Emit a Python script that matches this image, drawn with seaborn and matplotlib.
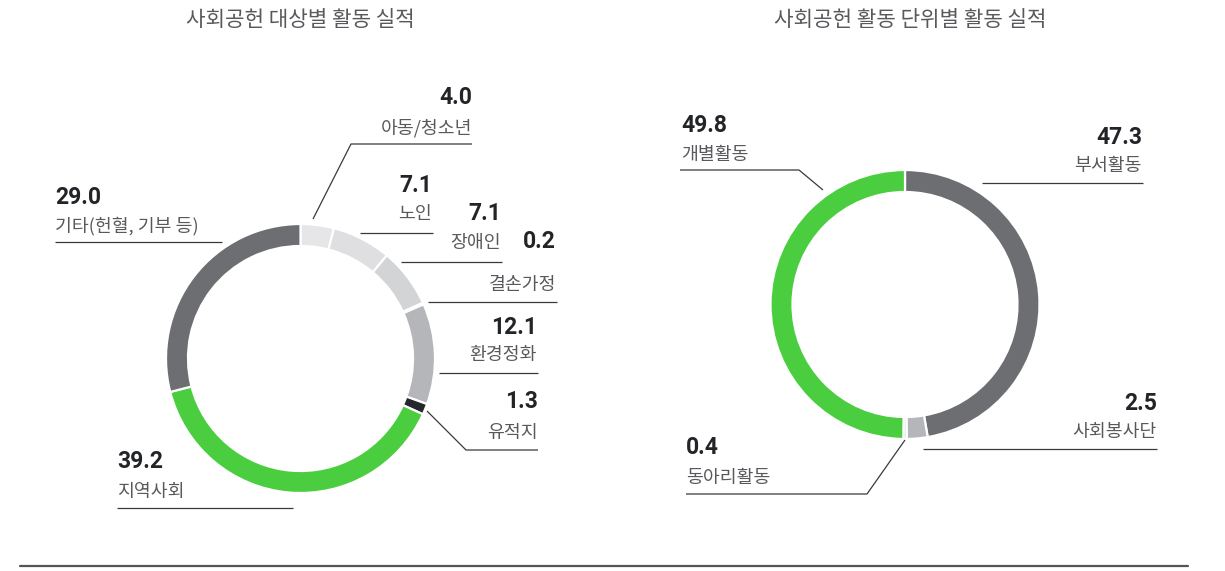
import matplotlib
matplotlib.use("Agg")
import matplotlib.pyplot as plt
import seaborn as sns

# ---- data -------------------------------------------------------------
titles = ["사회공헌 대상별 활동 실적", "사회공헌 활동 단위별 활동 실적"]

target_labels = ["아동/청소년", "노인", "장애인", "결손가정", "환경정화",
                 "유적지", "지역사회", "기타(헌혈, 기부 등)"]
target_values = [4.0, 7.1, 7.1, 0.2, 12.1, 1.3, 39.2, 29.0]
target_colors = ["#e6e6e8", "#dfdfe1", "#d3d4d6", "#c9cacc", "#b5b6b9",
                 "#24272c", "#4ace40", "#6d6e71"]

unit_labels = ["부서활동", "사회봉사단", "동아리활동", "개별활동"]
unit_values = [47.3, 2.5, 0.4, 49.8]
unit_colors = ["#6d6e71", "#b5b6b9", "#dcdcde", "#4ace40"]

# ---- style ------------------------------------------------------------
sns.set_theme(style="white")
plt.rcParams["font.family"] = ["Noto Sans CJK KR", "DejaVu Sans"]

W, H = 1225, 571
NUM_FONT = ["Roboto", "DejaVu Sans"]
KR_FONT = ["Noto Sans CJK KR", "DejaVu Sans"]
NUM_COLOR = "#222428"
LBL_COLOR = "#58595c"
LINE_COLOR = "#3a3a3c"


def Y(y):
    """Convert a top-down pixel row into the axes' bottom-up coordinate."""
    return H - y


fig = plt.figure(figsize=(W / 100, H / 100), dpi=100)
ax = fig.add_axes([0, 0, 1, 1])


def donut(values, colors, cx, cy, r=134.5, width=22):
    ax.pie(values, colors=colors, radius=r, center=(cx, Y(cy)),
           startangle=90, counterclock=False,
           wedgeprops=dict(width=width, edgecolor="white", linewidth=1.6))


def callout(value, label, x, y_num, y_lbl, ha, line):
    ax.text(x, Y(y_num), f"{value:.1f}", ha=ha, va="center",
            fontsize=16.5, fontweight="bold", color=NUM_COLOR, family=NUM_FONT)
    ax.text(x, Y(y_lbl), label, ha=ha, va="center", fontsize=13.2,
            color=LBL_COLOR, fontweight="light", family=KR_FONT)
    xs, ys = zip(*line)
    ax.plot(xs, [Y(v) for v in ys], color=LINE_COLOR, lw=0.9,
            solid_capstyle="butt")


# ---- left donut: by beneficiary ---------------------------------------
donut(target_values, target_colors, 300.5, 358.5)
left_layout = [
    (472, 97, 128, "right", [(472, 144), (351, 144), (313, 219)]),
    (432, 186, 214, "right", [(433, 233), (360, 233)]),
    (501, 214, 243, "right", [(502, 262), (401, 262)]),
    (556, 242, 285, "right", [(557, 302), (428, 302)]),
    (537, 327, 355, "right", [(538, 373), (439, 373)]),
    (538, 402, 433, "right", [(538, 450), (466, 450), (427, 411)]),
    (117, 462, 492, "left", [(117, 508), (293, 508)]),
    (55, 197, 226, "left", [(55, 242), (222, 242)]),
]
for v, lbl, (x, yn, yl, ha, line) in zip(target_values, target_labels, left_layout):
    callout(v, lbl, x, yn, yl, ha, line)

# ---- right donut: by activity unit ------------------------------------
donut(unit_values, unit_colors, 905, 304.5)
right_layout = [
    (1142, 137, 166, "right", [(1143, 183), (982, 183)]),
    (1157, 403, 432, "right", [(1157, 449), (923, 449)]),
    (686, 447, 478, "left", [(686, 494), (867, 494), (905, 440)]),
    (681, 125, 155, "left", [(680, 170), (799, 170), (823, 190)]),
]
for v, lbl, (x, yn, yl, ha, line) in zip(unit_values, unit_labels, right_layout):
    callout(v, lbl, x, yn, yl, ha, line)

# ---- titles and bottom rule -------------------------------------------
for t, cx in zip(titles, [300.5, 910]):
    ax.text(cx, Y(20), t, ha="center", va="center", fontsize=15.3,
            color=LBL_COLOR, fontweight="light", family=KR_FONT)

ax.plot([20, 1188], [Y(566), Y(566)], color="#555555", lw=1.6)

ax.set_xlim(0, W)
ax.set_ylim(0, H)
ax.set_aspect("equal")
ax.axis("off")

fig.savefig("out.png", dpi=100)
